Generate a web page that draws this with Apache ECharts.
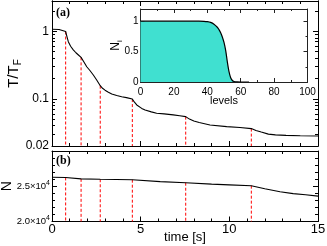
<!DOCTYPE html>
<html><head><meta charset="utf-8">
<script src="https://cdn.jsdelivr.net/npm/echarts@6/dist/echarts.min.js"></script>
<style>html,body{margin:0;padding:0;background:#fff}#c{width:327px;height:246px}</style>
</head><body><div id="c"></div>
<script>
// ---- data ----
const timeT = [0, 0.4, 0.77, 0.85, 0.92, 1.05, 1.2, 1.35, 1.49, 1.64, 1.8, 1.96, 2.15, 2.33, 2.52, 2.72, 2.85, 2.99, 3.18, 3.37, 3.65, 3.93, 4.2, 4.53, 4.65, 4.78, 5.06, 5.25, 5.6, 5.9, 6.32, 6.84, 7.2, 7.54, 7.75, 8.0, 8.3, 8.91, 9.85, 10.6, 11.24, 11.5, 11.8, 12.2, 12.6, 13.2, 14.0, 15];
const tempT = [1.07, 1.06, 0.99, 0.82, 0.70, 0.60, 0.53, 0.48, 0.445, 0.41, 0.35, 0.298, 0.26, 0.225, 0.19, 0.156, 0.143, 0.134, 0.125, 0.118, 0.112, 0.107, 0.104, 0.099, 0.089, 0.081, 0.072, 0.068, 0.064, 0.061, 0.0597, 0.0577, 0.056, 0.0544, 0.050, 0.047, 0.0445, 0.041, 0.0387, 0.0375, 0.0362, 0.034, 0.0322, 0.030, 0.0292, 0.0287, 0.0284, 0.0281];
const timeN = [0, 0.77, 1.64, 2.72, 4.53, 6.1, 7.54, 9.0, 10.0, 11.24, 12.0, 12.86, 13.6, 14.3, 15];
const atomN = [26270, 26250, 26050, 25990, 25930, 25650, 25500, 25300, 25200, 25080, 24650, 24230, 23950, 23800, 23600];
const eventTimes = [0.77, 1.64, 2.72, 4.53, 7.54, 11.24];
const eventTemp = [0.99, 0.41, 0.156, 0.099, 0.0544, 0.0362];
const eventAtoms = [26250, 26050, 25990, 25930, 25500, 25080];
const levels = [0, 5, 10, 15, 20, 25, 30, 35, 38, 40, 42, 44, 46, 47, 48, 49, 50, 51, 52, 53, 54, 55, 56, 58, 60, 65];
const occupation = [1, 1, 1, 1, 1, 1, 1, 1, 0.998, 0.993, 0.98, 0.95, 0.9, 0.86, 0.81, 0.74, 0.65, 0.52, 0.33, 0.17, 0.07, 0.025, 0.008, 0.001, 0, 0];
const tempLabelTicks = [0.02, 0.1, 1];
const tempMajorTicks = [0.1, 1];
const tempMinorTicks = [0.03, 0.04, 0.05, 0.06, 0.07, 0.08, 0.09, 0.2, 0.3, 0.4, 0.5, 0.6, 0.7, 0.8, 0.9, 2];
const atomLabelTicks = [20000, 25000];
const insetYLabelTicks = [0, 0.5, 1];

// ---- chart ----
const SANS = 'Liberation Sans, Arial, sans-serif';
const SERIF = 'Liberation Serif, Times New Roman, serif';
const chart = echarts.init(document.getElementById('c'), null, {renderer: 'canvas'});
const line = (c) => ({show: true, onZero: false, lineStyle: {color: c || '#000', width: 1}});
const noSplit = {show: false};

function timeAxis(grid, pos, showLabel) {
  return {
    type: 'value', gridIndex: grid, position: pos, min: 0, max: 15, interval: 5,
    axisLine: line(), splitLine: noSplit,
    axisTick: {show: true, inside: true, length: 5, lineStyle: {color: '#000'}},
    minorTick: {show: true, splitNumber: 5, length: 3, lineStyle: {color: '#000'}},
    axisLabel: {show: showLabel, margin: 1, fontSize: 13, color: '#000', fontFamily: SANS},
    name: showLabel ? 'time [s]' : '', nameLocation: 'middle', nameGap: 9, nameMoveOverlap: false,
    nameTextStyle: {fontSize: 13, color: '#000', fontFamily: SANS}
  };
}
function tempAxis(pos, major, withLabel) {
  return {
    type: 'log', gridIndex: 0, position: pos, min: 0.02, max: 2.8,
    axisLine: line(), splitLine: noSplit, minorTick: {show: false},
    axisTick: {show: true, inside: true, length: major ? 5 : 3, customValues: major ? tempMajorTicks : tempMinorTicks, lineStyle: {color: '#000'}},
    axisLabel: withLabel ? {show: true, customValues: tempLabelTicks, margin: 3, fontSize: 12, color: '#000', fontFamily: SANS,
      formatter: v => String(+(+v).toPrecision(3))} : {show: false},
    name: withLabel ? 'T/T{s|F}' : '', nameLocation: 'middle', nameGap: 29, nameMoveOverlap: false,
    nameTextStyle: {fontSize: 15, color: '#000', fontFamily: SANS, rich: {s: {fontSize: 10, fontFamily: SANS, color: '#000', padding: [8, 0, 0, 0]}}}
  };
}
function atomAxis(pos, withLabel) {
  return {
    type: 'value', gridIndex: 1, position: pos, min: 20000, max: 30000, interval: 5000,
    axisLine: line(), splitLine: noSplit,
    axisTick: {show: true, inside: true, length: 5, lineStyle: {color: '#000'}},
    minorTick: {show: true, splitNumber: 5, length: 3, lineStyle: {color: '#000'}},
    axisLabel: withLabel ? {show: true, customValues: atomLabelTicks, margin: 2, fontSize: 9.5, color: '#000', fontFamily: SANS,
      formatter: v => (v / 10000).toFixed(1) + '×10{p|4}',
      rich: {p: {fontSize: 7, fontFamily: SANS, color: '#000', padding: [0, 0, 7, 0]}}} : {show: false},
    name: withLabel ? 'N' : '', nameLocation: 'middle', nameGap: 38, nameMoveOverlap: false,
    nameTextStyle: {fontSize: 14, color: '#000', fontFamily: SANS}
  };
}
function levelAxis(pos, showLabel) {
  return {
    type: 'value', gridIndex: 2, position: pos, min: 0, max: 100, interval: 20,
    axisLine: line('#222'), splitLine: noSplit,
    axisTick: {show: true, inside: true, length: 4, lineStyle: {color: '#222'}},
    minorTick: {show: true, splitNumber: 2, length: 2, lineStyle: {color: '#222'}},
    axisLabel: {show: showLabel, margin: 5, fontSize: 10, color: '#000', fontFamily: SANS},
    name: showLabel ? 'levels' : '', nameLocation: 'middle', nameGap: 13, nameMoveOverlap: false,
    nameTextStyle: {fontSize: 11, color: '#000', fontFamily: SANS}
  };
}
function occAxis(pos, showLabel) {
  return {
    type: 'value', gridIndex: 2, position: pos, min: 0, max: 1.2, interval: 0.5,
    axisLine: line('#222'), splitLine: noSplit,
    axisTick: {show: true, inside: true, length: 4, lineStyle: {color: '#222'}},
    minorTick: {show: true, splitNumber: 2, length: 2, lineStyle: {color: '#222'}},
    axisLabel: showLabel ? {show: true, customValues: insetYLabelTicks, margin: 2, fontSize: 10, color: '#000', fontFamily: SANS} : {show: false},
    name: showLabel ? 'N{s|i}' : '', nameLocation: 'middle', nameGap: 17, nameMoveOverlap: false,
    nameTextStyle: {fontSize: 12, color: '#000', fontFamily: SANS, rich: {s: {fontSize: 8, fontFamily: SANS, color: '#000', padding: [7, 0, 0, 0]}}}
  };
}

const dash = {color: '#ff0000', width: 1, type: [3, 2]};
const series = [];
eventTimes.forEach((t, i) => {
  series.push({type: 'line', xAxisIndex: 0, yAxisIndex: 0, symbol: 'none', silent: true,
    data: [[t, eventTemp[i]], [t, 0.02]], lineStyle: dash, z: 2});
  series.push({type: 'line', xAxisIndex: 2, yAxisIndex: 4, symbol: 'none', silent: true,
    data: [[t, eventAtoms[i]], [t, 20000]], lineStyle: dash, z: 2});
});
series.push({type: 'line', xAxisIndex: 0, yAxisIndex: 0, symbol: 'none', z: 3,
  data: timeT.map((t, i) => [t, tempT[i]]), lineStyle: {color: '#000', width: 1.1}});
series.push({type: 'line', xAxisIndex: 2, yAxisIndex: 4, symbol: 'none', z: 3,
  data: timeN.map((t, i) => [t, atomN[i]]), lineStyle: {color: '#000', width: 1.1}});
series.push({type: 'line', xAxisIndex: 4, yAxisIndex: 6, symbol: 'none', z: 3, smooth: 0.3,
  data: levels.map((l, i) => [l, occupation[i]]), lineStyle: {color: '#000', width: 1.2},
  areaStyle: {color: '#40E0D0', opacity: 1}});

chart.setOption({
  animation: false,
  backgroundColor: '#fff',
  grid: [
    {left: 52, top: 1, width: 266, height: 145, outerBoundsMode: 'none', containLabel: false},
    {left: 52, top: 151, width: 266, height: 70.5, outerBoundsMode: 'none', containLabel: false},
    {left: 140.5, top: 9, width: 167, height: 73, outerBoundsMode: 'none', containLabel: false}
  ],
  xAxis: [timeAxis(0, 'bottom', false), timeAxis(0, 'top', false), timeAxis(1, 'bottom', true), timeAxis(1, 'top', false),
          levelAxis('bottom', true), levelAxis('top', false)],
  yAxis: [tempAxis('left', true, true), tempAxis('left', false, false), tempAxis('right', true, false), tempAxis('right', false, false),
          atomAxis('left', true), atomAxis('right', false), occAxis('left', true), occAxis('right', false)],
  series: series,
  graphic: [
    {type: 'text', left: 56, top: 7, style: {text: '(a)', font: 'bold 12px ' + SERIF, fill: '#000'}},
    {type: 'text', left: 56, top: 155, style: {text: '(b)', font: 'bold 12px ' + SERIF, fill: '#000'}}
  ]
});
</script>
</body></html>
